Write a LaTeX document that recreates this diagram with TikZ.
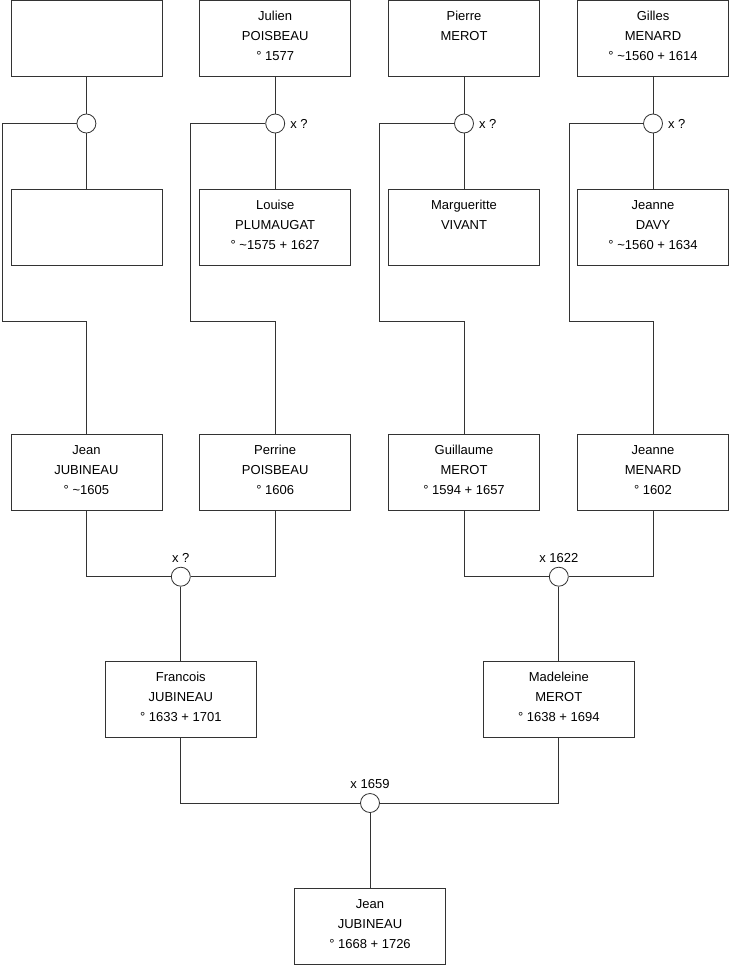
\documentclass[tikz,border=0pt]{standalone}
\usepackage{fontspec}
\setmainfont{Liberation Sans}
\usepackage{tikz}
\usetikzlibrary{positioning}
\newcommand{\who}[3]{\strut #1\\\strut #2\\\strut #3\rule[-10pt]{0pt}{10pt}}
\tikzset{
  personbox/.style={
    rectangle, draw=black!80, line width=0.8pt, fill=white,
    minimum width=151pt, minimum height=76pt, inner sep=0pt,
    align=center, font=\fontsize{13}{20}\selectfont
  },
  union/.style={
    circle, draw=black!80, line width=0.8pt, fill=white,
    minimum size=19pt, inner sep=0pt
  },
  unionlabel/.style={inner sep=1pt, font=\fontsize{13}{15}\selectfont},
  link/.style={line width=0.8pt, draw=black!80}
}

\begin{document}
\begin{tikzpicture}[x=1pt, y=-1pt]
\useasboundingbox (0,0) rectangle (740,975);

% great-grandparents
\node[personbox] (unknownA) at (86.4,38.5) {};
\node[personbox] (julien) at (275.2,38.5) {\who{Julien}{POISBEAU}{° 1577}};
\node[personbox] (pierre) at (464,38.5) {\who{Pierre}{MEROT}{}};
\node[personbox] (gilles) at (653,38.5) {\who{Gilles}{MENARD}{° \textasciitilde1560 + 1614}};

\node[personbox] (unknownB) at (86.4,227) {};
\node[personbox] (louise) at (275.2,227) {\who{Louise}{PLUMAUGAT}{° \textasciitilde1575 + 1627}};
\node[personbox] (marguerite) at (464,227) {\who{Margueritte}{VIVANT}{}};
\node[personbox] (jeanneD) at (653,227) {\who{Jeanne}{DAVY}{° \textasciitilde1560 + 1634}};

\node[union] (m1) at (86.4,123.5) {};
\node[union] (m2) at (275.2,123.5) {};
\node[union] (m3) at (464,123.5) {};
\node[union] (m4) at (653,123.5) {};
\node[unionlabel, right=4pt of m2] (l2) {x ?};
\node[unionlabel, right=4pt of m3] (l3) {x ?};
\node[unionlabel, right=4pt of m4] (l4) {x ?};

% grandparents
\node[personbox] (jeanA) at (86.4,472.5) {\who{Jean}{JUBINEAU}{° \textasciitilde1605}};
\node[personbox] (perrine) at (275.2,472.5) {\who{Perrine}{POISBEAU}{° 1606}};
\node[personbox] (guillaume) at (464,472.5) {\who{Guillaume}{MEROT}{° 1594 + 1657}};
\node[personbox] (jeanneM) at (653,472.5) {\who{Jeanne}{MENARD}{° 1602}};

\node[union] (m5) at (180.8,576.7) {};
\node[union] (m6) at (558.8,576.7) {};
\node[unionlabel, above=3pt of m5] (l5) {x ?};
\node[unionlabel, above=3pt of m6] (l6) {x 1622};

% parents and child
\node[personbox] (francois) at (180.8,699) {\who{Francois}{JUBINEAU}{° 1633 + 1701}};
\node[personbox] (madeleine) at (558.8,699) {\who{Madeleine}{MEROT}{° 1638 + 1694}};
\node[union] (m7) at (370,803) {};
\node[unionlabel, above=3pt of m7] (l7) {x 1659};
\node[personbox] (jeanB) at (370,926) {\who{Jean}{JUBINEAU}{° 1668 + 1726}};

\coordinate (k1) at (2.3,321.7);
\coordinate (k2) at (190.3,321.7);
\coordinate (k3) at (379,321.7);
\coordinate (k4) at (569,321.7);

\draw[link] (unknownA) -- (m1);
\draw[link] (m1) -- (unknownB);
\draw[link] (julien) -- (m2);
\draw[link] (m2) -- (louise);
\draw[link] (pierre) -- (m3);
\draw[link] (m3) -- (marguerite);
\draw[link] (gilles) -- (m4);
\draw[link] (m4) -- (jeanneD);

\draw[link] (m1.west) -| (k1) -| (jeanA.north);
\draw[link] (m2.west) -| (k2) -| (perrine.north);
\draw[link] (m3.west) -| (k3) -| (guillaume.north);
\draw[link] (m4.west) -| (k4) -| (jeanneM.north);

\draw[link] (jeanA.south) |- (m5.west);
\draw[link] (perrine.south) |- (m5.east);
\draw[link] (m5) -- (francois);
\draw[link] (guillaume.south) |- (m6.west);
\draw[link] (jeanneM.south) |- (m6.east);
\draw[link] (m6) -- (madeleine);

\draw[link] (francois.south) |- (m7.west);
\draw[link] (madeleine.south) |- (m7.east);
\draw[link] (m7) -- (jeanB);

\end{tikzpicture}
\end{document}
